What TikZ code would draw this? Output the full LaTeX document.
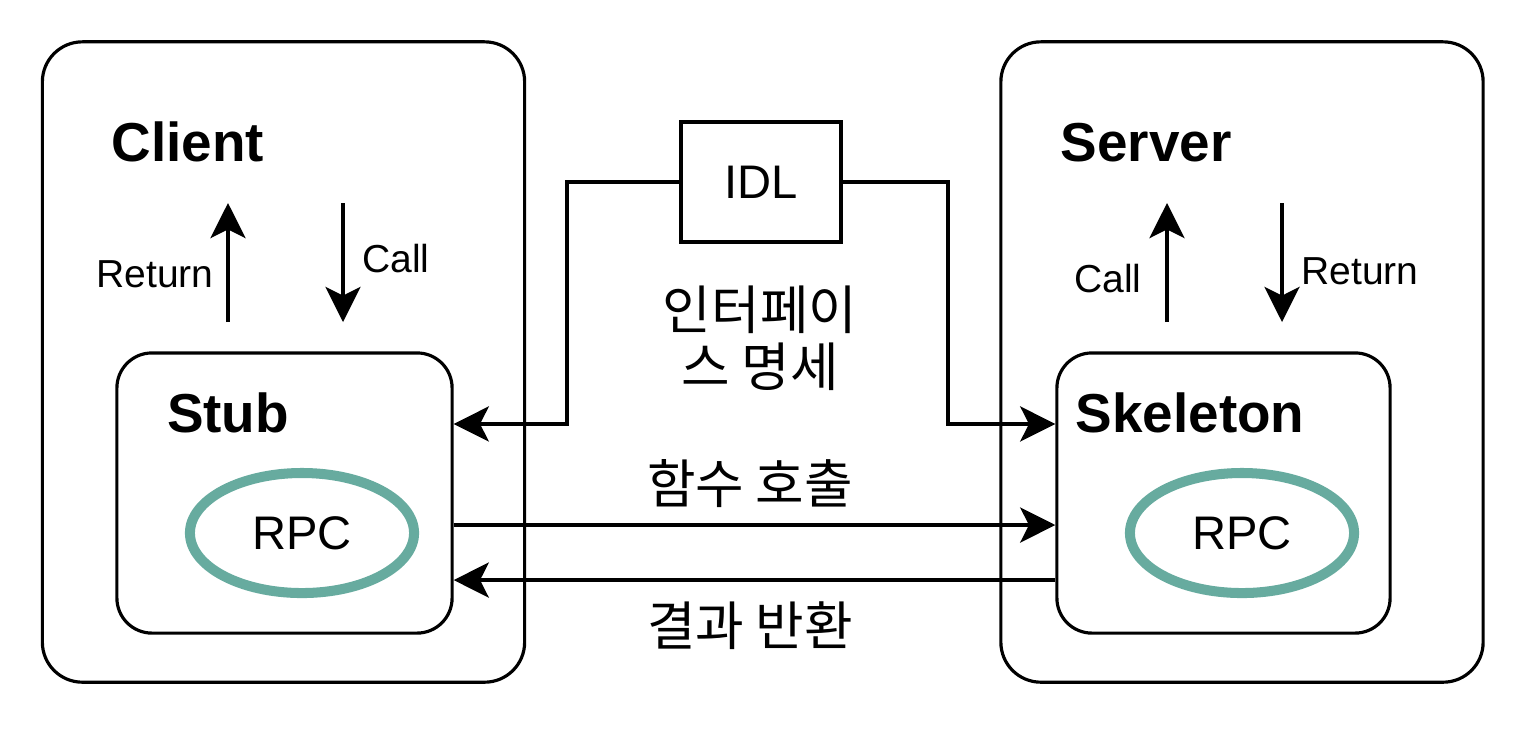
\documentclass[tikz,border=0pt]{standalone}
\usepackage{fontspec}
\setmainfont{Liberation Sans}
\newfontfamily\kr{Noto Sans CJK KR}
\usetikzlibrary{arrows.meta,shapes.geometric}
\definecolor{rpcgreen}{HTML}{67AB9F}

\begin{document}
\begin{tikzpicture}[x=0.01cm,y=-0.01cm,line width=0.9pt,
    >={Stealth[length=10pt,width=10pt,inset=2.5pt]},
    outerbox/.style={draw,rounded corners=0.4cm,minimum width=4.82cm,minimum height=6.4cm,inner sep=0pt},
    innerbox/.style={draw,rounded corners=0.35cm,minimum height=2.8cm,inner sep=0pt},
    rpcnode/.style={ellipse,draw=rpcgreen,line width=2.85pt,minimum width=2.24cm,minimum height=1.2cm,inner sep=0pt,font=\fontsize{13.4}{16}\selectfont},
    title/.style={anchor=base,font=\bfseries\fontsize{15.6}{18}\selectfont},
    small/.style={anchor=base,font=\fontsize{11.1}{13}\selectfont},
    krtext/.style={align=center,font=\kr\fontsize{15}{16.2}\selectfont}]
    \useasboundingbox (0,0) rectangle (1524,732);
    % 바깥 상자
    \node [outerbox] (client) at (283.5,362) {};
    \node [outerbox] (server) at (1242,362) {};
    \node [title] (clientlbl) at (188,161) {Client};
    \node [title] (serverlbl) at (1146,161) {Server};
    % Stub / Skeleton
    \node [innerbox,minimum width=3.35cm] (stub) at (284.5,493) {};
    \node [innerbox,minimum width=3.33cm] (skel) at (1223.5,493) {};
    \node [title] (stublbl) at (228,432) {Stub};
    \node [title] (skellbl) at (1190,432) {Skeleton};
    \node [rpcnode] (rpcL) at (302,533) {RPC};
    \node [rpcnode] (rpcR) at (1242,533) {RPC};
    % IDL
    \node [draw,minimum width=1.6cm,minimum height=1.2cm,inner sep=0pt,font=\fontsize{13.4}{16}\selectfont] (idl) at (761,182) {IDL};
    \coordinate (bendL) at (567,300);
    \coordinate (bendR) at (948,300);
    \draw [->] (idl.west) -| (bendL) |- ([yshift=0.69cm]stub.east);
    \draw [->] (idl.east) -| (bendR) |- ([yshift=0.69cm]skel.west);
    \node [krtext] (spec) at (760,338) {인터페이\\스 명세};
    % 호출과 반환
    \draw [->] ([yshift=-0.32cm]stub.east) -- ([yshift=-0.32cm]skel.west);
    \draw [->] ([yshift=-0.87cm]skel.west) -- ([yshift=-0.87cm]stub.east);
    \node [krtext] (calllbl) at (750,484) {함수 호출};
    \node [krtext] (retlbl) at (750,626) {결과 반환};
    % 세로 화살표
    \coordinate (cRetB) at (228,322);
    \coordinate (cRetT) at (228,203);
    \coordinate (cCallT) at (343,203);
    \coordinate (cCallB) at (343,322);
    \coordinate (sCallB) at (1167,322);
    \coordinate (sCallT) at (1167,203);
    \coordinate (sRetT) at (1282,203);
    \coordinate (sRetB) at (1282,322);
    \draw [->] (cRetB) -- (cRetT);
    \draw [->] (cCallT) -- (cCallB);
    \draw [->] (sCallB) -- (sCallT);
    \draw [->] (sRetT) -- (sRetB);
    \node [small] (cRetlbl) at (155,287) {Return};
    \node [small] (cCalllbl) at (396,272) {Call};
    \node [small] (sCalllbl) at (1108,292) {Call};
    \node [small] (sRetlbl) at (1360,284) {Return};
\end{tikzpicture}
\end{document}
